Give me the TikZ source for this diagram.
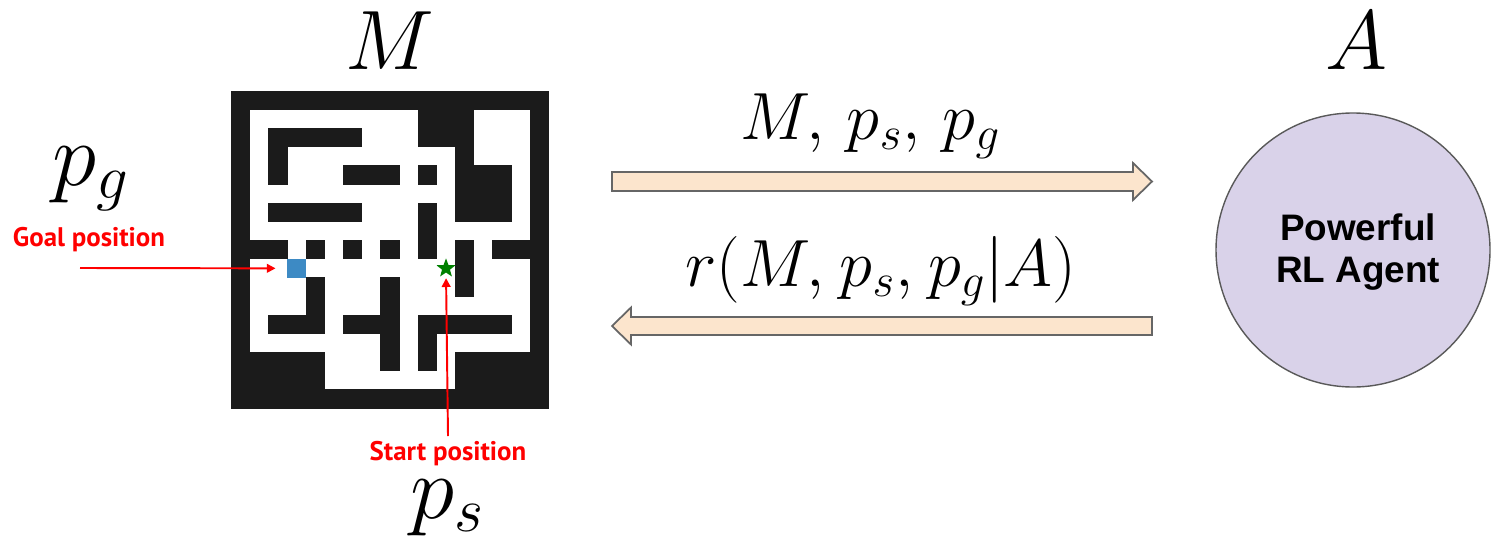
\RequirePackage{fix-cm}
\documentclass[tikz,border=0pt]{standalone}
\usepackage{fontspec}
\setmainfont{Liberation Sans}
\newfontfamily\labelfont{PT Sans}
\usetikzlibrary{shapes.geometric,arrows.meta}
\definecolor{mazeblack}{HTML}{1B1B1B}
\definecolor{goalblue}{HTML}{3D8AC4}
\definecolor{arrowfill}{HTML}{FCE5CD}
\definecolor{arrowdraw}{HTML}{666666}
\definecolor{circlefill}{HTML}{D9D2E9}
\definecolor{circledraw}{HTML}{595959}
\definecolor{starc}{HTML}{008000}
\begin{document}
\begin{tikzpicture}[x=0.02cm,y=-0.02cm,
  bigmath/.style={inner sep=0pt,font=\fontsize{48}{50}\selectfont},
  pmath/.style={inner sep=0pt,text height=0.43em,text depth=0.19em,font=\fontsize{51}{53}\selectfont},
  eqmath/.style={inner sep=0pt,font=\fontsize{38}{40}\selectfont},
  redlabel/.style={inner sep=0pt,text=red,font=\labelfont\bfseries\fontsize{15.3}{17}\selectfont},
  redarrow/.style={draw=red,line width=1.1pt,-{Triangle[length=5pt,width=5pt]}},
  bigarrow/.style={fill=arrowfill,draw=arrowdraw,line width=1pt,line join=miter},
  agentstyle/.style={circle,fill=circlefill,draw=circledraw,line width=0.8pt,minimum size=274*0.02cm,inner sep=0pt}
]
\useasboundingbox (0,0) rectangle (1493,541);
\def\xo{231.3}\def\yo{91.0}\def\cs{18.67}
% maze
\fill[white] (\xo,\yo) rectangle ({\xo+17*\cs},{\yo+17*\cs});
\foreach \r/\a/\b in {0/0/16,
 1/0/0,1/10/12,1/16/16,
 2/0/0,2/2/6,2/10/12,2/16/16,
 3/0/0,3/2/2,3/12/12,3/16/16,
 4/0/0,4/2/2,4/6/8,4/10/10,4/12/14,4/16/16,
 5/0/0,5/12/14,5/16/16,
 6/0/0,6/2/6,6/10/10,6/12/14,6/16/16,
 7/0/0,7/10/10,7/16/16,
 8/0/2,8/4/4,8/6/6,8/8/8,8/10/10,8/12/12,8/14/16,
 9/0/0,9/12/12,9/16/16,
 10/0/0,10/4/4,10/8/8,10/12/12,10/16/16,
 11/0/0,11/4/4,11/8/8,11/16/16,
 12/0/0,12/2/4,12/6/8,12/10/14,12/16/16,
 13/0/0,13/8/8,13/10/10,13/16/16,
 14/0/4,14/8/8,14/10/10,14/12/16,
 15/0/4,15/12/16,
 16/0/16}
 \fill[mazeblack] ({\xo+\a*\cs-0.3},{\yo+\r*\cs-0.3}) rectangle ({\xo+(\b+1)*\cs+0.3},{\yo+(\r+1)*\cs+0.3});
\node[fill=goalblue,minimum size=18.67*0.02cm,inner sep=0pt] (goal) at ({\xo+3.5*\cs},{\yo+9.5*\cs}) {};
\node[star,star points=5,star point ratio=2.4,fill=starc,inner sep=0pt,minimum size=20*0.02cm] (start) at ({\xo+11.5*\cs},{\yo+9.5*\cs}) {};
% labels
\node[bigmath] (Mlab) at (390,41) {$M$};
\node[bigmath] (Alab) at (1356,41) {$A$};
\node[pmath,anchor=base] (pg) at (91,185) {$p_g$};
\node[pmath,anchor=base] (ps) at (447,518) {$p_s$};
\node[redlabel] (goaltxt) at (89,240) {Goal position};
\node[redlabel] (starttxt) at (448,454) {Start position};
\coordinate (gfrom) at (80,268);
\coordinate (sfrom) at (448,436);
\draw[redarrow,shorten >=6.5pt] (gfrom) -- (goal.west);
\draw[redarrow,shorten >=3pt] (sfrom) -- (start.south);
% agent
\node[agentstyle] (agent) at (1353,250) {};
\node[align=center,font=\bfseries\fontsize{21}{23.5}\selectfont] (agenttxt) at (1358,252) {Powerful\\RL Agent};
% big arrows
\draw[bigarrow] (612,172) -- (1133,172) -- (1133,163) -- (1152,181.5) -- (1133,200) -- (1133,191) -- (612,191) -- cycle;
\draw[bigarrow] (1152,317) -- (631,317) -- (631,307.5) -- (612,326) -- (631,344.5) -- (631,335) -- (1152,335) -- cycle;
\node[eqmath,anchor=base] (eq1) at (870,139) {$M,\mkern3mu p_s,\mkern3mu p_g$};
\node[eqmath,anchor=base] (eq2) at (881,286) {$r(M,\mkern1mu p_s,\mkern1mu p_g|A)$};
\end{tikzpicture}
\end{document}
